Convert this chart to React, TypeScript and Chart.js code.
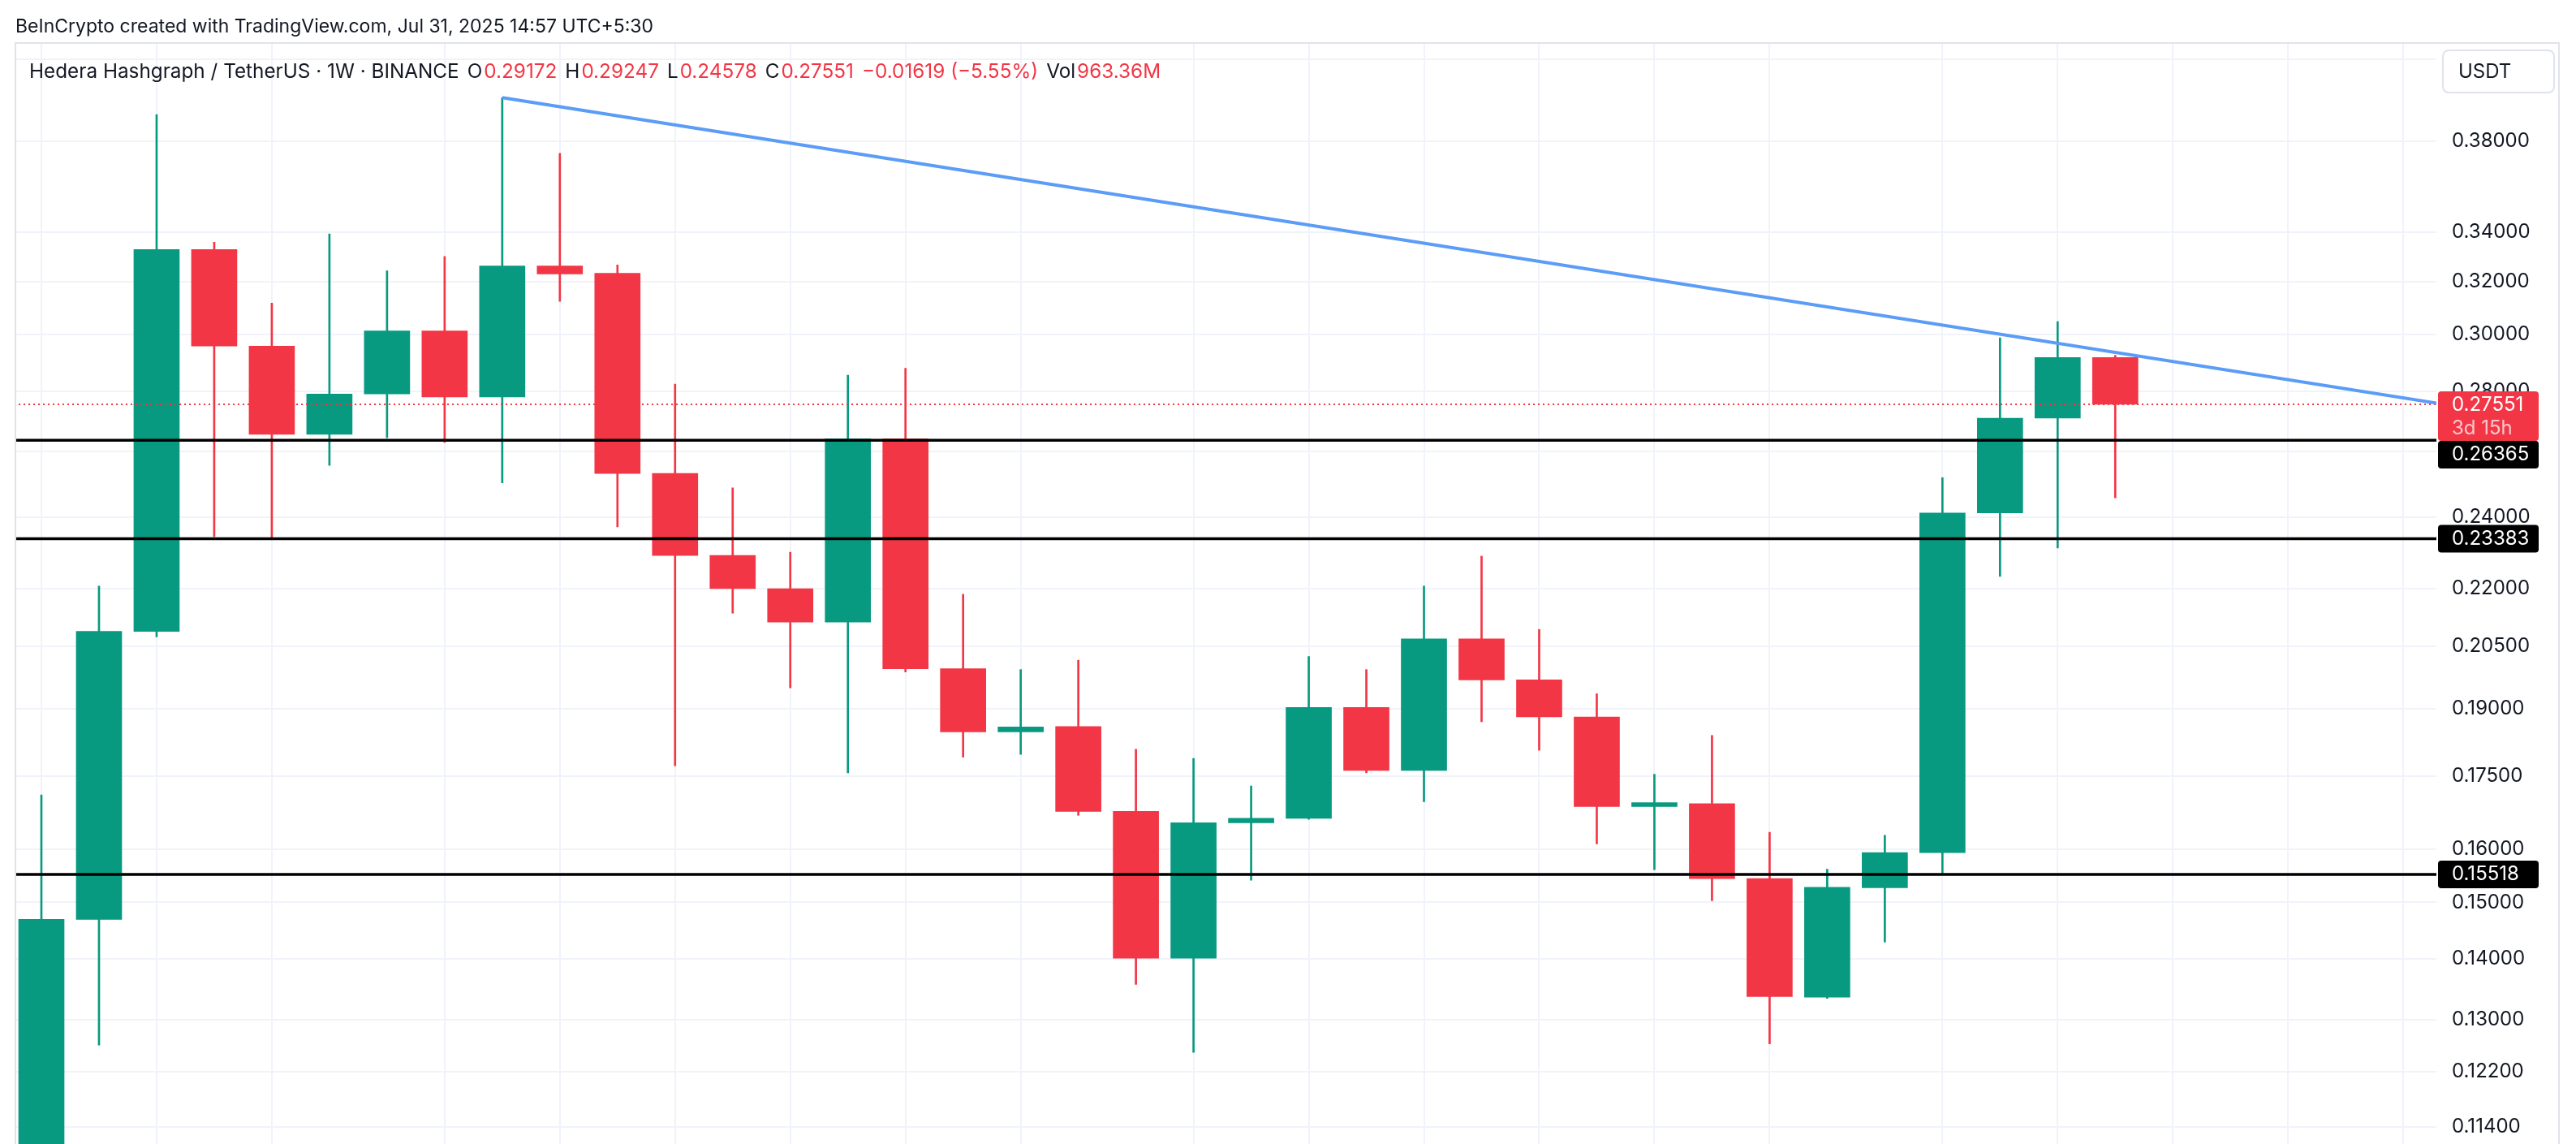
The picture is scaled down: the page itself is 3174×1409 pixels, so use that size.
import React, { useEffect, useRef } from 'react';
import { Chart, registerables } from 'chart.js';

Chart.register(...registerables);

// ---- Data (weekly HBAR/USDT candles, oldest -> newest) ----
const opens = [0.1030, 0.1469, 0.2088, 0.3328, 0.2958, 0.2656, 0.2790, 0.3013, 0.2780, 0.3262, 0.3233, 0.2532, 0.2291, 0.2200, 0.2112, 0.2641, 0.1995, 0.1847, 0.1859, 0.1676, 0.1401, 0.1653, 0.1662, 0.1903, 0.1762, 0.2069, 0.1968, 0.1881, 0.1686, 0.1692, 0.1544, 0.1336, 0.1527, 0.1594, 0.2413, 0.2709, 0.29172];
const highs = [0.1710, 0.2207, 0.3924, 0.3358, 0.3117, 0.3392, 0.3243, 0.3300, 0.4006, 0.3743, 0.3266, 0.2824, 0.2488, 0.2300, 0.2855, 0.2879, 0.2185, 0.1993, 0.2016, 0.1808, 0.1788, 0.1729, 0.2025, 0.1993, 0.2207, 0.2289, 0.2093, 0.1935, 0.1754, 0.1839, 0.1634, 0.1562, 0.1628, 0.2519, 0.2988, 0.3048, 0.29247];
const lows = [0.0990, 0.1260, 0.2074, 0.2344, 0.2338, 0.2557, 0.2645, 0.2630, 0.2503, 0.3124, 0.2372, 0.1772, 0.2135, 0.1949, 0.1757, 0.1987, 0.1791, 0.1797, 0.1668, 0.1357, 0.1249, 0.1541, 0.1660, 0.1757, 0.1696, 0.1870, 0.1806, 0.1611, 0.1561, 0.1503, 0.1262, 0.1334, 0.1429, 0.1553, 0.2233, 0.2312, 0.24578];
const closes = [0.1469, 0.2088, 0.3328, 0.2958, 0.2656, 0.2790, 0.3013, 0.2780, 0.3262, 0.3230, 0.2532, 0.2291, 0.2200, 0.2112, 0.2641, 0.1995, 0.1847, 0.1858, 0.1676, 0.1401, 0.1653, 0.1662, 0.1903, 0.1762, 0.2069, 0.1968, 0.1881, 0.1686, 0.1694, 0.1544, 0.1337, 0.1528, 0.1594, 0.2413, 0.2709, 0.2917, 0.27551];

const yTickValues = [0.42, 0.38, 0.34, 0.32, 0.30, 0.28, 0.26, 0.24, 0.22, 0.205, 0.19, 0.175, 0.16, 0.15, 0.14, 0.13, 0.122, 0.114];
const timeGridIdx = [0, 2, 4, 7, 9, 11, 13, 15, 17, 20, 22, 24, 26, 28, 30, 33, 35, 37, 39, 41];
const levelLines = [0.26365, 0.23383, 0.15518];
const lastPrice = 0.27551;
const countdownText = '3d 15h';
const trendPoints = [{ x: 8, y: 0.4006 }, { x: 42, y: 0.2746 }];
const currencyLabel = 'USDT';
const headerText = 'BeInCrypto created with TradingView.com, Jul 31, 2025 14:57 UTC+5:30';
const symbolText = 'Hedera Hashgraph / TetherUS · 1W · BINANCE';
const ohlcLabels = ['O', 'H', 'L', 'C'];
const ohlcValues = ['0.29172', '0.29247', '0.24578', '0.27551'];
const changeText = '−0.01619 (−5.55%)';
const volLabel = 'Vol';
const volValue = '963.36M';

// ---- Style / layout ----
const W = 3174;
const H = 1409;
const PLOT_LEFT = 19;
const PLOT_TOP = 53;
const AXIS_W = 172;
const X_MIN = -0.4508;
const X_MAX = 41.575;
const Y_MIN = 0.11168;
const Y_MAX = 0.42823;
const GREEN = '#089981';
const RED = '#f23645';
const BLUE = '#5b9cf6';
const TEXT = '#131722';
const GRID = '#f0f3fa';
const FRAME = '#e0e3eb';
const FONT = 'Inter, "Noto Sans", sans-serif';

const overlayPlugin = {
  id: 'tvOverlay',
  afterDraw(chart: any) {
    const ctx = chart.ctx;
    const ys = chart.scales.y;
    const area = chart.chartArea;
    ctx.save();
    // frame
    ctx.strokeStyle = FRAME;
    ctx.lineWidth = 2;
    ctx.beginPath();
    ctx.moveTo(PLOT_LEFT, H + 2);
    ctx.lineTo(PLOT_LEFT, PLOT_TOP);
    ctx.lineTo(3153, PLOT_TOP);
    ctx.lineTo(3153, H + 2);
    ctx.stroke();

    const rr = (x: number, y: number, w: number, h: number, r: number) => {
      ctx.beginPath();
      ctx.moveTo(x + r, y);
      ctx.lineTo(x + w - r, y);
      ctx.quadraticCurveTo(x + w, y, x + w, y + r);
      ctx.lineTo(x + w, y + h - r);
      ctx.quadraticCurveTo(x + w, y + h, x + w - r, y + h);
      ctx.lineTo(x + r, y + h);
      ctx.quadraticCurveTo(x, y + h, x, y + h - r);
      ctx.lineTo(x, y + r);
      ctx.quadraticCurveTo(x, y, x + r, y);
      ctx.closePath();
    };

    // currency button
    rr(3010, 62, 137, 52, 8);
    ctx.fillStyle = '#ffffff';
    ctx.fill();
    ctx.strokeStyle = FRAME;
    ctx.lineWidth = 2;
    ctx.stroke();
    ctx.fillStyle = TEXT;
    ctx.font = `24px ${FONT}`;
    ctx.textBaseline = 'middle';
    ctx.textAlign = 'left';
    ctx.fillText(currencyLabel, 3029, 89);

    // price labels
    const boxX = area.right + 2;
    const boxW = 124;
    const boxes: any[] = [];
    const lp = ys.getPixelForValue(lastPrice);
    boxes.push({ top: lp - 16, h: 61, color: RED, lines: [lastPrice.toFixed(5), countdownText] });
    levelLines.forEach((v) => {
      const p = ys.getPixelForValue(v);
      boxes.push({ top: p - 17, h: 34, color: '#000000', lines: [v.toFixed(5)] });
    });
    boxes.sort((a, b) => a.top - b.top);
    for (let i = 1; i < boxes.length; i++) {
      const prev = boxes[i - 1];
      if (boxes[i].top < prev.top + prev.h) boxes[i].top = prev.top + prev.h;
    }
    boxes.forEach((b) => {
      rr(boxX, b.top, boxW, b.h, 4);
      ctx.fillStyle = b.color;
      ctx.fill();
      ctx.font = `24px ${FONT}`;
      ctx.fillStyle = '#ffffff';
      ctx.fillText(b.lines[0], 3021, b.top + 17);
      if (b.lines[1]) {
        ctx.fillStyle = 'rgba(255,255,255,0.72)';
        ctx.fillText(b.lines[1], 3021, b.top + 46);
      }
    });
    ctx.restore();
  },
};

export default function App() {
  const ref = useRef<HTMLCanvasElement>(null);

  useEffect(() => {
    const idx = opens.map((_, i) => i);
    const colors = idx.map((i) => (closes[i] >= opens[i] ? GREEN : RED));
    const bodyData = idx.map((i) => ({ x: i, y: [opens[i], closes[i]] }));
    const wickData = idx.map((i) => ({ x: i, y: [lows[i], highs[i]] }));
    const hLine = (v: number) => [{ x: -2, y: v }, { x: 44, y: v }];

    const chart = new Chart(ref.current as HTMLCanvasElement, {
      type: 'bar',
      data: {
        datasets: [
          {
            type: 'line',
            data: trendPoints,
            borderColor: BLUE,
            borderWidth: 4,
            pointRadius: 0,
            order: 0,
          } as any,
          {
            type: 'line',
            data: hLine(lastPrice),
            borderColor: RED,
            borderWidth: 2,
            borderDash: [2, 4],
            pointRadius: 0,
            order: 1,
          } as any,
          ...levelLines.map((v) => ({
            type: 'line',
            data: hLine(v),
            borderColor: '#000000',
            borderWidth: 3.5,
            pointRadius: 0,
            order: 1,
          })) as any,
          {
            type: 'bar',
            data: bodyData,
            backgroundColor: colors,
            borderWidth: 0,
            barThickness: 56,
            grouped: false,
            minBarLength: 2,
            order: 2,
          } as any,
          {
            type: 'bar',
            data: wickData,
            backgroundColor: colors,
            borderWidth: 0,
            barThickness: 2,
            grouped: false,
            order: 3,
          } as any,
        ],
      },
      options: {
        responsive: false,
        animation: false,
        devicePixelRatio: 1,
        layout: { padding: { left: PLOT_LEFT, top: PLOT_TOP, right: 0, bottom: 0 } },
        plugins: {
          legend: { display: false },
          tooltip: { enabled: false },
          title: { display: false },
        },
        scales: {
          x: {
            type: 'linear',
            min: X_MIN,
            max: X_MAX,
            offset: false,
            grid: { color: GRID, lineWidth: 2, drawTicks: false, offset: false },
            border: { display: false },
            ticks: { display: false },
            afterBuildTicks: (s: any) => {
              s.ticks = timeGridIdx.map((v) => ({ value: v }));
            },
            afterFit: (s: any) => {
              s.height = 0;
              s.paddingLeft = 0;
              s.paddingRight = 0;
              s.paddingTop = 0;
              s.paddingBottom = 0;
            },
          },
          y: {
            type: 'logarithmic',
            position: 'right',
            min: Y_MIN,
            max: Y_MAX,
            bounds: 'data',
            grid: { color: GRID, lineWidth: 2, drawTicks: false },
            border: { display: false },
            ticks: {
              padding: 19,
              color: TEXT,
              autoSkip: false,
              font: { family: FONT, size: 24 },
              callback: (v: any) => Number(v).toFixed(5),
            },
            afterBuildTicks: (s: any) => {
              s.ticks = yTickValues.map((v) => ({ value: v }));
            },
            afterFit: (s: any) => {
              s.width = AXIS_W;
              s.paddingTop = 0;
              s.paddingBottom = 0;
              s.paddingLeft = 0;
              s.paddingRight = 0;
            },
          },
        },
      } as any,
      plugins: [overlayPlugin],
    });
    return () => chart.destroy();
  }, []);

  const gap = 10;
  return (
    <div style={{ position: 'absolute', left: 0, top: 0, width: W, height: H, background: '#ffffff', overflow: 'hidden' }}>
      <canvas ref={ref} width={W} height={H} style={{ position: 'absolute', left: 0, top: 0, width: W, height: H }} />
      <div
        style={{
          position: 'absolute',
          left: 19,
          top: 16,
          height: 32,
          lineHeight: '32px',
          fontFamily: FONT,
          fontSize: 23,
          color: TEXT,
          whiteSpace: 'nowrap',
        }}
      >
        {headerText}
      </div>
      <div
        style={{
          position: 'absolute',
          left: 36,
          top: 71,
          height: 32,
          lineHeight: '32px',
          fontFamily: FONT,
          fontSize: 24.3,
          color: TEXT,
          whiteSpace: 'nowrap',
          display: 'flex',
          gap,
        }}
      >
        <span>{symbolText}</span>
        {ohlcLabels.map((l, i) => (
          <span key={l}>
            {l}
            <span style={{ color: RED, marginLeft: 2 }}>{ohlcValues[i]}</span>
          </span>
        ))}
        <span style={{ color: RED }}>{changeText}</span>
        <span>
          {volLabel}
          <span style={{ color: RED, marginLeft: 2 }}>{volValue}</span>
        </span>
      </div>
    </div>
  );
}
